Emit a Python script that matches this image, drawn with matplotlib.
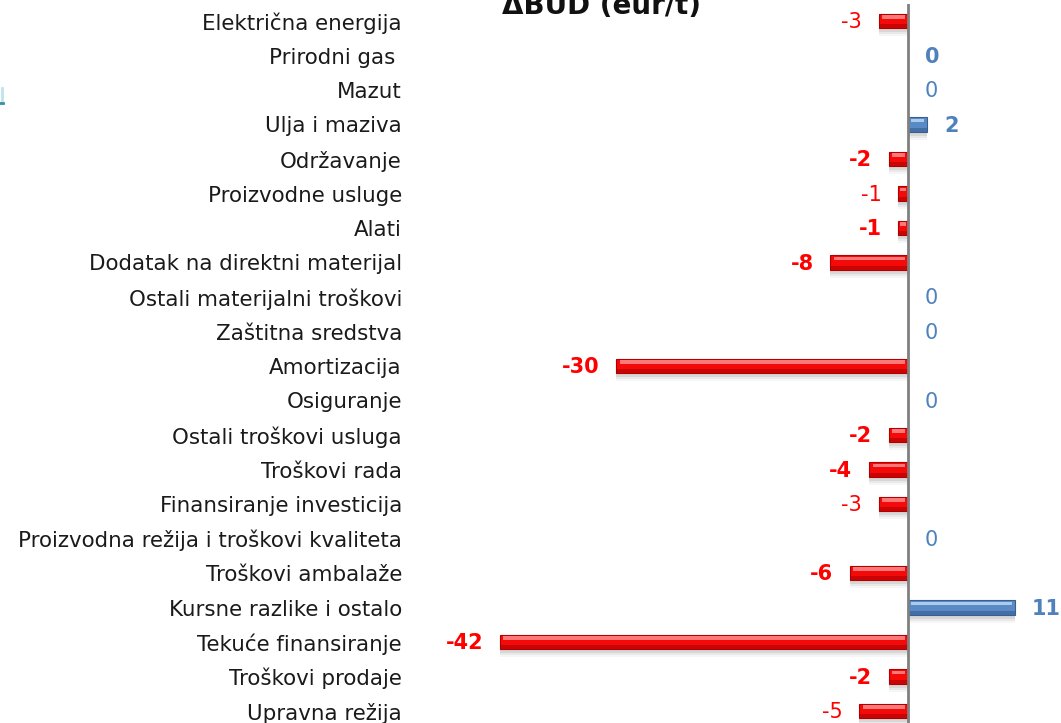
import matplotlib
matplotlib.use("Agg")
import matplotlib.pyplot as plt
from matplotlib.lines import Line2D

categories = [
    "Električna energija", "Prirodni gas ", "Mazut", "Ulja i maziva",
    "Održavanje", "Proizvodne usluge", "Alati",
    "Dodatak na direktni materijal", "Ostali materijalni troškovi",
    "Zaštitna sredstva", "Amortizacija", "Osiguranje",
    "Ostali troškovi usluga", "Troškovi rada", "Finansiranje investicija",
    "Proizvodna režija i troškovi kvaliteta", "Troškovi ambalaže",
    "Kursne razlike i ostalo", "Tekuće finansiranje", "Troškovi prodaje",
    "Upravna režija",
]
values = [-3, 0, 0, 2, -2, -1, -1, -8, 0, 0, -30, 0, -2, -4, -3, 0, -6, 11, -42, -2, -5]
bold_labels = [False, True, False, True, True, False, True, True, False, False,
               True, False, True, True, False, False, True, True, True, True, False]

title = "ΔBUD (eur/t)"

DPI = 100
W, H = 1061, 723
fig = plt.figure(figsize=(W / DPI, H / DPI), dpi=DPI)

# axes geometry in pixels
ax_left_px, ax_right_px = 420, 1061
zero_px = 908
px_per_unit = 9.72
ax = fig.add_axes([ax_left_px / W, 0, (ax_right_px - ax_left_px) / W, 1 - 4 / H])
ax.set_xlim(-(zero_px - ax_left_px) / px_per_unit, (ax_right_px - zero_px) / px_per_unit)
first_row_px, row_step = 21, 34.5
top = -(first_row_px - 4) / row_step
bottom = (len(categories) - 1) + (H - (first_row_px + row_step * (len(categories) - 1))) / row_step
ax.set_ylim(bottom, top)

for s in ax.spines.values():
    s.set_visible(False)
ax.set_xticks([])
ax.set_yticks(range(len(categories)))
ax.set_yticklabels(categories, fontsize=15.4, color="#1a1a1a", family="DejaVu Sans")
ax.tick_params(axis="y", length=0, pad=13)

RED = dict(base="#F50A0A", light="#FF8585", dark="#A00000", edge="#B00000")
BLUE = dict(base="#5A8AC6", light="#B3D3F2", dark="#2F5487", edge="#3A5F8F")

h = 0.42
for i, v in enumerate(values):
    if v == 0:
        continue
    pal = RED if v < 0 else BLUE
    sgn = 1 if v > 0 else -1
    # soft drop shadow
    for k, a in enumerate([0.12, 0.08, 0.05]):
        ax.barh(i + 0.12 + 0.04 * k, v, height=h + 0.03 * k,
                color="#555555", alpha=a, linewidth=0, zorder=1)
    # main body
    ax.barh(i, v, height=h, color=pal["base"], edgecolor=pal["edge"], linewidth=0.8, zorder=2)
    # darker lower bevel
    ax.barh(i + h * 0.36, v, height=h * 0.28, color=pal["dark"], alpha=0.5, linewidth=0, zorder=3)
    # light upper bevel
    inset = min(0.35, abs(v) * 0.2)
    ax.barh(i - h * 0.28, v - sgn * 2 * inset, left=sgn * inset, height=h * 0.24,
            color=pal["light"], alpha=0.9, linewidth=0, zorder=3)

# value labels
for i, v in enumerate(values):
    col = "#FF0000" if v < 0 else "#4F81BD"
    weight = "bold" if bold_labels[i] else "normal"
    if v < 0:
        ax.annotate(f"{v}", xy=(v, i), xytext=(-12, -1), textcoords="offset points",
                    ha="right", va="center", color=col, fontsize=15, fontweight=weight)
    else:
        ax.annotate(f"{v}", xy=(v, i), xytext=(12, -1), textcoords="offset points",
                    ha="left", va="center", color=col, fontsize=15, fontweight=weight)

ax.axvline(0, color="#808080", linewidth=2, zorder=4)

fig.text(602 / W, 1 - 14 / H, title, ha="center", va="baseline",
         fontsize=20, fontweight="bold", color="#111111")

# small teal marker at the left edge
fig.add_artist(Line2D([1.5 / W, 1.5 / W], [1 - 88 / H, 1 - 102 / H],
                      color="#BFE3EA", linewidth=2))
fig.add_artist(Line2D([0, 3 / W], [1 - 103 / H, 1 - 103 / H],
                      color="#3B8FA3", linewidth=2))

fig.savefig("out.png", dpi=DPI)
